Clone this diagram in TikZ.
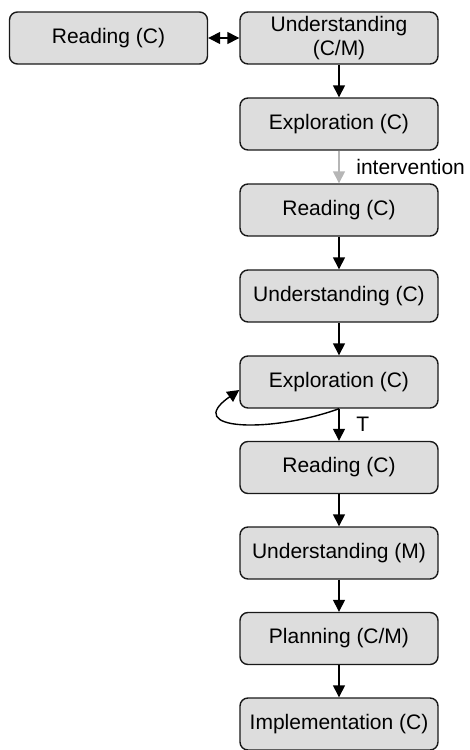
\documentclass[tikz,border=0pt]{standalone}
\usepackage{fontspec}
\setmainfont{Liberation Sans}
\usepackage{xcolor}
\usetikzlibrary{arrows.meta}
\definecolor{boxgray}{RGB}{221,221,221}
\definecolor{lightarrow}{RGB}{182,182,182}

\begin{document}
\begin{tikzpicture}[x=0.5pt,y=0.5pt,
    every node/.style={font=\fontsize{10.5}{12}\selectfont},
    stage/.style={draw=black!90, fill=boxgray, rounded corners=4pt, line width=0.7pt,
      minimum width=99pt, minimum height=26pt, inner sep=0pt, align=center},
    flow/.style={line width=0.7pt, -{Triangle[length=6pt,width=6pt]}}]
      \useasboundingbox (0,0) rectangle (470,-750);
      \node[stage] (R0) at (108.5,-38) {Reading (C)};
      \node[stage] (U0) at (339,-38) {Understanding\\(C/M)};
      \node[stage] (E1) at (339,-124) {Exploration (C)};
      \node[stage] (R1) at (339,-210) {Reading (C)};
      \node[stage] (U1) at (339,-296) {Understanding (C)};
      \node[stage] (E2) at (339,-382) {Exploration (C)};
      \node[stage] (R2) at (339,-467.5) {Reading (C)};
      \node[stage] (U2) at (339,-553) {Understanding (M)};
      \node[stage] (P) at (339,-638.5) {Planning (C/M)};
      \node[stage] (I) at (339,-724) {Implementation (C)};
      \draw [line width=0.7pt, {Triangle[length=6pt,width=6pt]}-{Triangle[length=6pt,width=6pt]}] (R0) to (U0);
      \draw [flow] (U0) to (E1);
      \draw [flow, color=lightarrow] (E1) to node[anchor=west, xshift=5pt, text=black] {intervention} (R1);
      \draw [flow] (R1) to (U1);
      \draw [flow] (U1) to (E2);
      \draw [flow] (E2.south) to[out=200, in=215, looseness=1.8] ([yshift=-4pt]E2.west);
      \draw [flow] (E2) to node[anchor=west, xshift=5pt] {T} (R2);
      \draw [flow] (R2) to (U2);
      \draw [flow] (U2) to (P);
      \draw [flow] (P) to (I);
\end{tikzpicture}
\end{document}
